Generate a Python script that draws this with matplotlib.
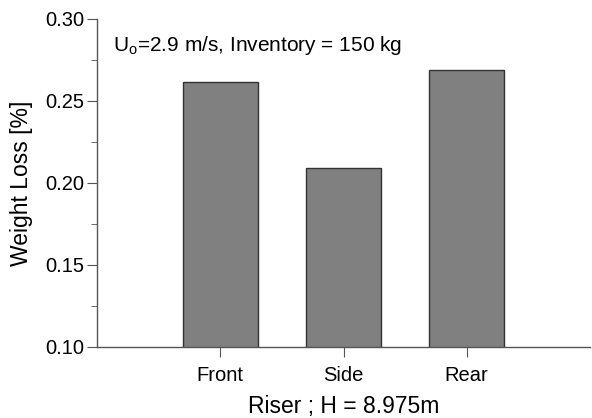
import numpy as np
import matplotlib.pyplot as plt

plt.rcParams['font.family'] = ['Liberation Sans', 'DejaVu Sans']

positions = ['Front', 'Side', 'Rear']
weight_loss = [0.2618, 0.2091, 0.2687]

fig = plt.figure(figsize=(5.92, 4.18), dpi=100)
ax = fig.add_axes([97/592, 1 - 347/418, (590 - 97)/592, (347 - 19)/418])

x = np.arange(1, len(positions) + 1)
ax.bar(x, weight_loss, width=0.61, color='#808080', edgecolor='#333333', linewidth=1.0, zorder=2)

ax.set_xlim(0, 4)
ax.set_ylim(0.10, 0.30)
ax.set_xticks(x)
ax.set_xticklabels(positions)
ax.set_yticks([0.10, 0.15, 0.20, 0.25, 0.30])
ax.set_yticks(np.arange(0.125, 0.30, 0.05), minor=True)
ax.yaxis.set_major_formatter(plt.FormatStrFormatter('%.2f'))

for s in ['top', 'right']:
    ax.spines[s].set_visible(False)
for s in ['left', 'bottom']:
    ax.spines[s].set_color('#555555')
    ax.spines[s].set_linewidth(1.0)

ax.tick_params(axis='both', which='major', direction='out', length=7, color='#555555', labelsize=14.5)
ax.tick_params(axis='y', which='minor', direction='out', length=4, color='#555555')
ax.tick_params(axis='y', pad=2)
ax.tick_params(axis='x', pad=7)

ax.set_xlabel('Riser ; H = 8.975m', fontsize=16.5, labelpad=7)
ax.set_ylabel('Weight Loss [%]', fontsize=16.5, labelpad=9)

ax.text(0.032, 0.955, r'U$_\mathregular{o}$=2.9 m/s, Inventory = 150 kg', transform=ax.transAxes,
        fontsize=15, va='top', ha='left')

fig.savefig('out.png', dpi=100)
